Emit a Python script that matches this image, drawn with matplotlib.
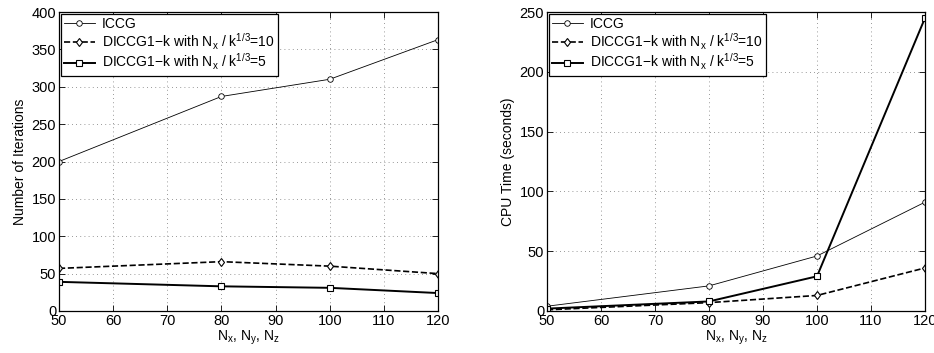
import matplotlib
matplotlib.use("Agg")
import matplotlib.pyplot as plt

plt.rcParams['font.family'] = ['Liberation Sans', 'DejaVu Sans']
plt.rcParams['mathtext.fontset'] = 'custom'
plt.rcParams['mathtext.rm'] = 'Liberation Sans'
plt.rcParams['mathtext.it'] = 'Liberation Sans'
plt.rcParams['mathtext.default'] = 'regular'

grid_sizes = [50, 80, 100, 120]

iter_iccg = [200, 287, 310, 363]
iter_diccg10 = [57, 66, 60, 50]
iter_diccg5 = [39, 33, 31, 24]

cpu_iccg = [4, 21, 46, 91]
cpu_diccg10 = [1, 7, 13, 36]
cpu_diccg5 = [2, 8, 29, 245]

labels = ["ICCG",
          "DICCG1\u2212k with N$_x$ / k$^{1/3}$=10",
          "DICCG1\u2212k with N$_x$ / k$^{1/3}$=5"]

xticks = [50, 60, 70, 80, 90, 100, 110, 120]

fig = plt.figure(figsize=(9.34, 3.53), dpi=100)
W, H = 934, 353
ax1 = fig.add_axes([59 / W, 1 - 311 / H, (438 - 59) / W, (311 - 12) / H])
ax2 = fig.add_axes([547 / W, 1 - 311 / H, (925 - 547) / W, (311 - 12) / H])


def style(ax, ymax, ystep, ylabel):
    ax.set_xlim(50, 120)
    ax.set_ylim(0, ymax)
    ax.set_xticks(xticks)
    ax.set_yticks(list(range(0, ymax + 1, ystep)))
    ax.grid(True, linestyle=(0, (1, 4)), color='#777777', linewidth=0.6)
    ax.tick_params(direction='in', top=True, right=True, labelsize=10.5, length=4,
                   width=0.6, pad=2)
    for s in ax.spines.values():
        s.set_linewidth(0.9)
    ax.set_xlabel("N$_x$, N$_y$, N$_z$", fontsize=10, labelpad=1)
    ax.set_ylabel(ylabel, fontsize=10, labelpad=3)


def draw(ax, a, b, c):
    ax.plot(grid_sizes, a, '-', color='black', lw=0.6, marker='o', ms=4,
            mfc='white', mec='black', mew=0.6, label=labels[0])
    ax.plot(grid_sizes, b, '--', color='black', lw=1.2, marker='d', ms=4.5,
            mfc='white', mec='black', mew=0.8, label=labels[1])
    ax.plot(grid_sizes, c, '-', color='black', lw=1.4, marker='s', ms=3.8,
            mfc='white', mec='black', mew=0.8, label=labels[2])
    leg = ax.legend(loc='upper left', fontsize=10, numpoints=1, handlelength=2.2,
                    borderaxespad=0.12, labelspacing=0.02, handletextpad=0.5,
                    fancybox=False, framealpha=1, edgecolor='black', borderpad=0.25)
    leg.get_frame().set_linewidth(0.9)


style(ax1, 400, 50, "Number of Iterations")
draw(ax1, iter_iccg, iter_diccg10, iter_diccg5)
style(ax2, 250, 50, "CPU Time (seconds)")
draw(ax2, cpu_iccg, cpu_diccg10, cpu_diccg5)

fig.savefig("out.png", dpi=100)
